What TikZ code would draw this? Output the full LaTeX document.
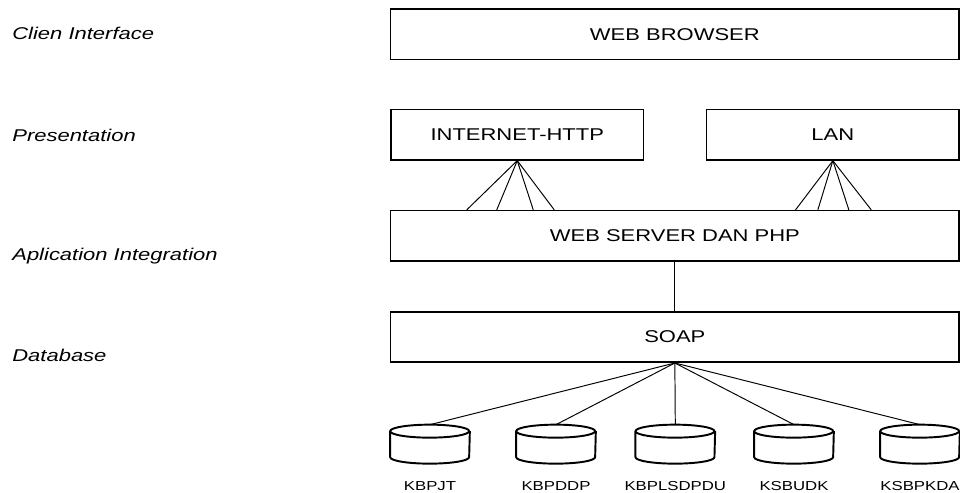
\documentclass[tikz,border=0pt]{standalone}
\usepackage{fontspec}
\setmainfont{Liberation Sans}[FakeStretch=1.29]
\usetikzlibrary{calc}

\begin{document}
\begin{tikzpicture}[x=0.02cm,y=-0.02cm,
  box/.style={draw,line width=0.85pt,minimum height=1.01cm,inner sep=0pt,font=\fontsize{9.7}{11}\selectfont},
  layer/.style={anchor=base west,inner sep=0pt,font=\fontsize{9.7}{11}\selectfont\itshape},
  db/.style={minimum width=1.58cm,minimum height=0.766cm,inner sep=0pt,
    label={[font=\fontsize{7.4}{9}\selectfont,label distance=0.23cm]below:#1}},
  dbline/.style={line width=1.1pt,line join=round},
  fan/.style={line width=0.55pt}]
\useasboundingbox (0,0) rectangle (960,493);
% layer names
\node[layer] (lclient) at (12,40) {Clien Interface};
\node[layer] (lpresent) at (12,142) {Presentation};
\node[layer] (lintegr) at (12,260) {Aplication Integration};
\node[layer] (ldata) at (12,361.5) {Database};
% boxes
\node[box,minimum width=11.37cm] (browser) at (674.85,34.2) {WEB BROWSER};
\node[box,minimum width=5.06cm] (internet) at (517.25,134.65) {INTERNET-HTTP};
\node[box,minimum width=5.05cm] (lan) at (832.85,134.65) {LAN};
\node[box,minimum width=11.37cm] (server) at (674.85,235.85) {WEB SERVER DAN PHP};
\node[box,minimum width=11.37cm] (soap) at (674.85,337) {SOAP};
% databases
\node[db=KBPJT] (kbpjt) at (430,444.15) {};
\node[db=KBPDDP] (kbpddp) at (556,444.15) {};
\node[db=KBPLSDPDU] (kbplsdpdu) at (675.3,444.15) {};
\node[db=KSBUDK] (ksbudk) at (794,444.15) {};
\node[db=KSBPKDA] (ksbpkda) at (920,444.15) {};
\foreach \d in {kbpjt,kbpddp,kbplsdpdu,ksbudk,ksbpkda}
  \draw[dbline] ([yshift=-0.13cm]\d.north west)
    arc[start angle=180,end angle=540,x radius=0.79cm,y radius=0.13cm]
    -- ([yshift=0.13cm]\d.south west)
    arc[start angle=180,end angle=360,x radius=0.79cm,y radius=0.13cm]
    -- ([yshift=-0.13cm]\d.north east);
% connections
\foreach \dx in {-50.5,-20.5,16,37}
  \draw[fan] (internet.south) -- ($(server.north -| internet.south)+(\dx,0)$);
\foreach \dx in {-37.3,-15,16,38.4}
  \draw[fan] (lan.south) -- ($(server.north -| lan.south)+(\dx,0)$);
\draw[fan] (server.south) -- (soap.north);
\foreach \d in {kbpjt,kbpddp,kbplsdpdu,ksbudk,ksbpkda}
  \draw[fan] (soap.south) -- (\d.north);
\end{tikzpicture}
\end{document}
